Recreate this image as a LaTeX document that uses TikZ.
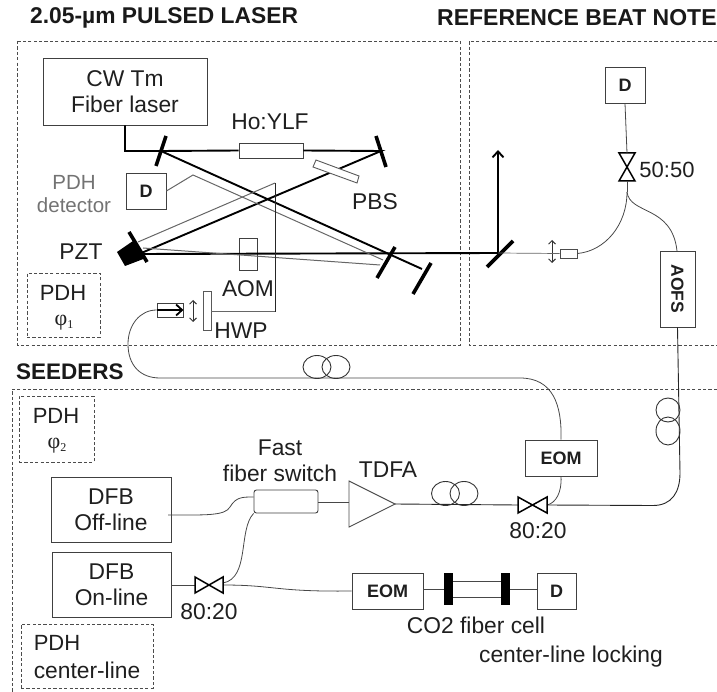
\documentclass[tikz,border=0pt]{standalone}
\usepackage{fontspec}
\setmainfont{Liberation Sans}
\newfontfamily\phifont{Liberation Serif}
\usetikzlibrary{arrows.meta,calc}
\newcommand{\fs}[1]{\fontsize{#1}{#1}\selectfont}
\newcommand{\phisub}[1]{{\phifont\fs{22}φ\raisebox{-3pt}{\fs{12}#1}}}
\tikzset{
  x=1pt,y=-1pt,
  lbl/.style={inner sep=0,font=\fs{22.8},align=center,text=black!88},
  head/.style={inner sep=0,font=\fs{22.8}\bfseries,anchor=west,text=black!90},
  box/.style={draw=black!75,line width=.9pt,fill=white,inner sep=0,align=center,font=\fs{22.8},text=black!88},
  bbox/.style={box,font=\fs{18}\bfseries},
  dbox/.style={draw=black!70,line width=.7pt,dash pattern=on 3.2pt off 2.2pt},
  fiber/.style={draw=black!72,line width=.8pt},
  thin grey/.style={draw=black!60,line width=1pt},
  beam/.style={draw=black,line width=1.9pt},
  mirror/.style={draw=black,line width=3.6pt},
  plate/.style={draw=black!65,line width=.9pt,fill=white},
  lens/.style={draw=black!80,line width=.9pt,{Straight Barb[length=3.5pt,width=7pt]}-{Straight Barb[length=3.5pt,width=7pt]}},
  tie/.style={draw=black,line width=1.5pt},
  coil/.style={draw=black!80,line width=.9pt},
}
\begin{document}
\begin{tikzpicture}
\useasboundingbox (0,0) rectangle (717,692);
% section frames
\draw[dbox] (17,41) rectangle (460,345);
\draw[dbox] (717,41) -- (469,41) -- (469,345) -- (717,345);
\draw[dbox] (717,389) -- (12,389) -- (12,692);
% headings
\node[head] at (30,18) {2.05-µm PULSED LASER};
\node[head,font=\fs{23}\bfseries] at (437,18) {REFERENCE BEAT NOTE};
\node[head,font=\fs{22.5}\bfseries] at (16,372) {SEEDERS};
% points on the optics
\coordinate (m1) at (161,151);
\coordinate (m2) at (381,151);
\coordinate (m3) at (139,254);
\coordinate (m4) at (386,254);
\coordinate (m5) at (422,269);
\coordinate (m6) at (498,253);
\coordinate (tip) at (498,150);
\coordinate (gPz1) at (138,242);
\coordinate (gPz2) at (143,248);
\coordinate (gM4a) at (383,260);
\coordinate (gM4b) at (380,265);
\coordinate (gKink) at (193,175);
\coordinate (gTop) at (275,183);
\coordinate (gBot) at (275,312);
% free-space boxes
\node[box,minimum width=164,minimum height=67] (cw) at (125,91.5) {CW Tm\\[3pt]Fiber laser};
\node[box,minimum width=64,minimum height=15] (ho) at (271,150.5) {};
\node[lbl] at (270,122) {Ho:YLF};
\node[bbox,minimum width=40,minimum height=36] (dp) at (146,191) {D};
\node[draw=black!75,line width=.9pt,inner sep=0,minimum width=18,minimum height=32] (aom) at (248,254) {};
\node[lbl] at (248,289) {AOM};
\node[lbl] at (81,252) {PZT};
\node[lbl,text=black!55,font=\fs{20.5}] at (74,194) {PDH\\[2pt]detector};
\node[lbl] at (375,202) {PBS};
\node[lbl] at (241,331) {HWP};
\node[dbox,minimum width=73,minimum height=64] (pdh1) at (63.5,305) {};
\node[lbl,font=\fs{22}] at (63,293) {PDH};
\node[lbl] at (64,323) {\phisub{1}};
% beams
\draw[beam] (cw.south) |- (m1) -- (ho.west);
\draw[beam] (ho.east) -- (m2) -- (m3);
\draw[beam] (m1) -- (m5);
\draw[beam] (m3) -- (m6);
\draw[beam,-{Straight Barb[length=6pt,width=11pt]}] (m6) -- (tip);
% grey return path
\draw[thin grey] (dp.east) -- (gKink) -- (gM4a);
\draw[thin grey] (gPz2) -- (gM4b);
\draw[thin grey] (gPz1) -- (gTop);
\draw[draw=black!85,line width=.8pt] (gTop) -- (gBot);
% mirrors
\draw[mirror] (166,136) -- (156,166);
\draw[mirror] (376,136) -- (386,167);
\draw[mirror] (129,232) -- (147,262);
\draw[mirror] (395,247) -- (377,278);
\draw[mirror] (431,263) -- (413,294);
\draw[mirror] (513,241) -- (487,267);
\fill[black] (117,252) -- (133,241) -- (146,258) -- (125,266) -- cycle;
\draw[plate] (316,160) -- (359,176) -- (357,183) -- (313,167) -- cycle;
% launch optics, pulsed laser
\node[draw=black!75,line width=.9pt,inner sep=0,minimum width=26,minimum height=14] (col1) at (170,310) {};
\node[plate,inner sep=0,minimum width=8,minimum height=39] (hwp) at (207,310.5) {};
\draw[lens] (193,300) -- (193,322);
\draw[thin grey] (hwp.east |- gBot) -- (gBot);
\draw[draw=black,line width=1.8pt,-{Straight Barb[length=6pt,width=11pt]}] (col1.west) -- (col1.east);
% reference beat note
\node[bbox,minimum width=40,minimum height=36] (dr) at (625,85) {D};
\node[draw=black!70,line width=.9pt,fill=white,inner sep=0,minimum width=17,minimum height=9] (col2) at (568.5,253.5) {};
\draw[lens] (552,240) -- (552,263);
\draw[thin grey,line width=.7pt] (m6) -- (col2.west);
\node[bbox,font=\fs{17.5}\bfseries,rotate=-90,minimum width=76,minimum height=35] (aofs) at (677.5,289) {AOFS};
\coordinate (c50t) at (627,153);
\coordinate (c50b) at (627,181);
\coordinate (c50f) at (627,192);
\draw[tie,line join=miter] (619,153) -- (635,153) -- (619,181) -- (635,181) -- cycle;
\node[lbl,font=\fs{22}] at (667,170) {50:50};
\draw[fiber] (dr.south) -- (c50t);
\draw[fiber] (c50b) -- (c50f);
\draw[fiber] (col2.east) .. controls (605,251) and (627,225) .. (c50f);
\draw[fiber] (c50f) .. controls (630,215) and (672,205) .. (677,251);
% seeders
\node[dbox,minimum width=75,minimum height=66] (pdh2) at (56.5,429) {};
\node[lbl,font=\fs{22}] at (56,416) {PDH};
\node[lbl] at (57,446) {\phisub{2}};
\node[dbox,minimum width=132,minimum height=64] (pdh3) at (87,656) {};
\node[lbl,font=\fs{22}] at (57,643) {PDH};
\node[lbl] at (87,670) {center-line};
\node[box,minimum width=120,minimum height=65] (off) at (111,509.5) {DFB\\[3pt]Off-line};
\node[box,minimum width=119,minimum height=65] (on) at (111.5,584.5) {DFB\\[3pt]On-line};
\node[lbl] at (280,461) {Fast\\[3pt]fiber switch};
\node[draw=black!75,line width=.9pt,rounded corners=2.5pt,fill=white,inner sep=0,minimum width=64,minimum height=23] (sw) at (286,501.5) {};
\draw[draw=black!70,line width=.9pt,fill=white] (349,481) -- (395,504) -- (349,527) -- cycle;
\coordinate (tin) at (349,502);
\coordinate (tout) at (395,504);
\node[lbl] at (388,470) {TDFA};
\node[bbox,minimum width=72,minimum height=36] (eom1) at (561,458) {EOM};
\node[bbox,minimum width=71,minimum height=36] (eom2) at (387.5,591) {EOM};
\node[bbox,minimum width=39,minimum height=36] (dc) at (556.5,591) {D};
\node[lbl] at (538,531) {80:20};
\node[lbl] at (209,612) {80:20};
\node[lbl] at (476,625) {CO2 fiber cell};
\node[lbl] at (571,657) {center-line locking};
% coupler positions
\coordinate (k1l) at (518,505);
\coordinate (k1r) at (547,505);
\coordinate (k2l) at (195,585);
\coordinate (k2r) at (223,583);
\coordinate (k2q) at (223,585);
% fibres
\draw[fiber] (168,515) .. controls (205,515) and (225,516) .. (230,507) .. controls (236,497) and (242,497) .. (sw.west |- 0,497);
\draw[fiber] (sw.east |- tin) -- (tin);
\draw[draw=black!85,line width=.9pt] (tout) -- (k1l);
\draw[draw=black!85,line width=.9pt] (k1r) -- (653,505.5) .. controls (672,505.5) and (680,492) .. (680,473) -- (aofs.east);
\draw[fiber] (k1r) .. controls (556,503) and (562,492) .. (eom1.south);
\draw[fiber] (eom1.north) .. controls (562,405) and (553,378) .. (520,378) -- (160,378) .. controls (140,378) and (128,365) .. (128,344) .. controls (128,325) and (140,310) .. (col1.west);
\draw[fiber] (on.east |- k2l) -- (k2l);
\draw[fiber] (k2r) .. controls (250,578) and (238,530) .. (sw.south west);
\draw[fiber] (k2q) .. controls (275,585) and (275,592) .. (eom2.west);
% couplers
\draw[tie] (518,497) -- (518,513) -- (547,497) -- (547,513) -- cycle;
\draw[tie] (195,577) -- (195,593) -- (223,577) -- (223,593) -- cycle;
% coils
\draw[coil] (445.5,493.5) ellipse [x radius=14,y radius=12];
\draw[coil] (464,493.5) ellipse [x radius=14,y radius=12];
\draw[coil] (317,367) ellipse [x radius=14,y radius=11.5];
\draw[coil] (336,367) ellipse [x radius=14,y radius=11.5];
\draw[coil] (668,410) ellipse [x radius=12,y radius=12];
\draw[coil] (668,431) ellipse [x radius=12,y radius=14];
% CO2 cell
\draw[fiber] (453,581) -- (501,581);
\draw[fiber] (453,597) -- (501,597);
\node[fill=black,inner sep=0,minimum width=9,minimum height=32] (cl) at (448.5,589) {};
\node[fill=black,inner sep=0,minimum width=9,minimum height=32] (cr) at (505.5,589) {};
\draw[fiber] (eom2.east |- cl) -- (cl.west);
\draw[fiber] (cr.east) -- (dc.west |- cr);
\end{tikzpicture}
\end{document}
